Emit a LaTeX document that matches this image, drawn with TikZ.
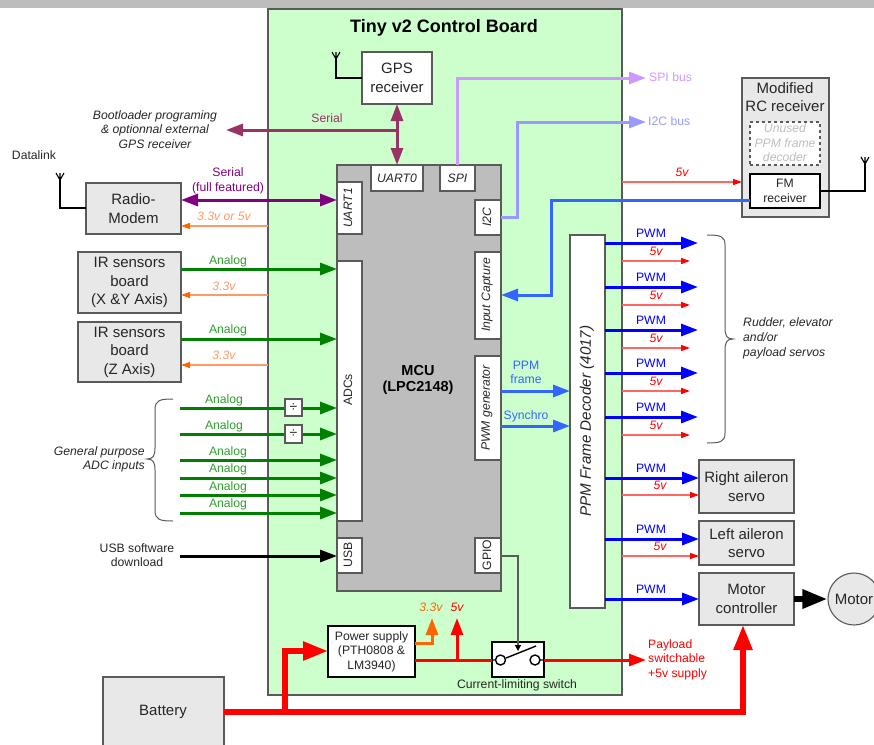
\documentclass[tikz,border=0pt]{standalone}
\usepackage{fontspec}
\setmainfont{Liberation Sans}
\usetikzlibrary{arrows.meta,calc}
\definecolor{boardgreen}{HTML}{CCFFCC}
\definecolor{mcugray}{HTML}{BDBDBD}
\definecolor{boxgray}{HTML}{E8E8E8}
\definecolor{edgegray}{HTML}{5A5A5A}
\definecolor{txt}{HTML}{262626}
\definecolor{magline}{HTML}{993366}
\definecolor{purp}{HTML}{800080}
\definecolor{orgline}{HTML}{FF9966}
\definecolor{orghead}{HTML}{FF6600}
\definecolor{grn}{HTML}{008000}
\definecolor{grntxt}{HTML}{2E9E2E}
\definecolor{lilac}{HTML}{CC99FF}
\definecolor{peri}{HTML}{9999FF}
\definecolor{azure}{HTML}{3366FF}
\definecolor{pink}{HTML}{FF6666}
\newcommand{\fbig}{\fontsize{15}{18.5}\selectfont}
\newcommand{\fsm}{\fontsize{12.2}{14.6}\selectfont}
\newcounter{lblc}
% \nbox[style]{name}{x1}{y1}{x2}{y2}{text}
\newcommand{\nbox}[7][]{%
  \pgfmathsetmacro{\bw}{#5-#3}\pgfmathsetmacro{\bh}{#6-#4}%
  \node[anchor=north west,inner sep=0pt,outer sep=0pt,align=center,font=\fbig,text=txt,
        draw=edgegray,line width=1.1pt,minimum width=\bw pt,minimum height=\bh pt,#1] (#2) at (#3,#4) {#7};}
\newcommand{\lbl}[4][]{\stepcounter{lblc}%
  \node[inner sep=0pt,align=center,font=\fsm,text=txt,#1] (t\arabic{lblc}) at (#2,#3) {#4};}
\tikzset{
  x=1pt,y=-1pt,
  fatline/.style={line width=3pt},
  thinline/.style={line width=1.4pt},
  bighead/.style={-{Triangle[length=17pt,width=12pt]}},
  smallhead/.style={-{Triangle[length=9pt,width=6pt,color=#1]}},
  hugehead/.style={-{Triangle[length=25pt,width=18pt]}},
  serialdbl/.style={{Triangle[length=17pt,width=12pt]}-{Triangle[length=17pt,width=12pt]}},
  white box/.style={fill=white},
  gray box/.style={fill=boxgray},
  port/.style={fill=white,font=\fsm\itshape},
  vert/.style={rotate=90,font=\fsm\itshape},
  volt/.style={font=\fsm\itshape},
  aerial/.style={line width=1.1pt,black},
  bracket/.style={line width=1pt,edgegray},
}
\begin{document}
\begin{tikzpicture}[line cap=butt]
\useasboundingbox (0,0) rectangle (874,744);
\fill[mcugray] (0,0) rectangle (874,8);
% board
\nbox[fill=boardgreen]{board}{268}{9}{622}{695}{}
\lbl[font=\fontsize{18}{20}\selectfont\bfseries,text=black]{444}{28}{Tiny v2 Control Board}
% MCU and ports
\nbox[fill=mcugray]{mcu}{337}{165}{501}{591}{}
\lbl[font=\fontsize{14.5}{16}\selectfont\bfseries,text=black]{418}{380}{MCU\\(LPC2148)}
\nbox[port]{uart0}{371}{165}{423}{191}{UART0}
\nbox[port]{spi}{440}{165}{475}{191}{SPI}
\nbox[white box]{uart1}{337}{182}{362}{234}{}
\lbl[vert]{348}{208}{UART1}
\nbox[white box]{adcs}{337}{261}{362}{521}{}
\lbl[vert,font=\fsm]{348}{390}{ADCs}
\nbox[white box]{usb}{337}{538}{362}{573}{}
\lbl[vert,font=\fsm]{348}{555}{USB}
\nbox[white box]{i2c}{475}{200}{501}{235}{}
\lbl[vert]{487}{217}{I2C}
\nbox[white box]{icap}{475}{252}{501}{339}{}
\lbl[vert]{487}{295}{Input Capture}
\nbox[white box]{pwmgen}{475}{356}{501}{460}{}
\lbl[vert]{487}{408}{PWM generator}
\nbox[white box]{gpio}{475}{538}{501}{573}{}
\lbl[vert,font=\fsm]{487}{555}{GPIO}
% decoder
\nbox[white box]{dec}{570}{235}{605}{608}{}
\lbl[rotate=90,font=\fontsize{15.2}{17}\selectfont\itshape]{587}{421}{PPM Frame Decoder (4017)}
% GPS
\nbox[white box]{gps}{362}{52}{432}{104}{GPS\\receiver}
\coordinate (gpsant) at (336,59);
\draw[aerial] (gps.west) -| (gpsant) ;
\draw[aerial] (gpsant) -- +(-4,-7) (gpsant) -- +(4,-7) (gpsant) -- +(0,-7);
% left boxes
\nbox[gray box]{radio}{86}{183}{181}{234}{Radio-\\Modem}
\coordinate (radant) at (60,180);
\draw[aerial] (radio.west |- 0,208) -| (radant);
\draw[aerial] (radant) -- +(-4,-7) (radant) -- +(4,-7) (radant) -- +(0,-7);
\nbox[gray box]{irxy}{78}{252}{181}{313}{IR sensors\\board\\(X \&Y Axis)}
\nbox[gray box]{irz}{78}{322}{181}{382}{IR sensors\\board\\(Z Axis)}
\nbox[gray box]{batt}{103}{677}{224}{750}{}
\lbl[font=\fbig]{163}{712}{Battery}
% right boxes
\nbox[gray box]{rc}{742}{78}{829}{217}{}
\lbl[font=\fbig]{785}{97}{Modified\\RC receiver}
\nbox[white box,dashed,line width=1.3pt]{unused}{750}{122}{820}{165}{}
\lbl[text=black!25,font=\fontsize{12.2}{14.6}\selectfont\itshape]{785}{143}{Unused\\PPM frame\\decoder}
\nbox[white box,draw=black,font=\fontsize{12.2}{15}\selectfont]{fm}{750}{174}{820}{208}{FM\\receiver}
\coordinate (fmant) at (865,164);
\draw[aerial] (fm.east |- 0,191) -| (fmant);
\draw[aerial] (fmant) -- +(-4,-7) (fmant) -- +(4,-7) (fmant) -- +(0,-7);
\nbox[gray box]{raileron}{699}{460}{794}{513}{Right aileron\\servo}
\nbox[gray box]{laileron}{699}{521}{794}{565}{Left aileron\\servo}
\nbox[gray box]{motctl}{699}{573}{794}{625}{Motor\\controller}
\node[circle,draw=edgegray,line width=1.1pt,fill=boxgray,minimum size=52pt,inner sep=0pt,text=txt,font=\fbig] (motor) at (854,599) {Motor};
% power supply and switch
\nbox[white box,draw=black,font=\fsm]{psu}{328}{626}{415}{677}{Power supply\\(PTH0808 \&\\LM3940)}
\nbox[white box,draw=black]{switch}{492}{642}{544}{677}{}
\lbl{517}{685}{Current-limiting switch}
\draw[black,line width=1.4pt] (500.5,660) circle (5) (535,660) circle (5) (492,660) -- (495.5,660) (540,660) -- (544,660) (506,658) -- (536,646);
% Serial GPS
\coordinate (bootl) at (226,130);
\coordinate (sertap) at (397,130);
\draw[magline,fatline,serialdbl] (gps.south -| sertap) -- (uart0.north -| sertap);
\draw[magline,fatline,bighead] (sertap) -- (bootl);
\lbl[text=magline]{327}{118}{Serial}
\lbl[font=\fsm\itshape,text=txt]{155}{129.5}{Bootloader programing\\\& optionnal external\\GPS receiver}
\lbl{34}{155}{Datalink}
% Radio modem
\draw[purp,fatline,serialdbl] (radio.east |- 0,200) -- (uart1.west |- 0,200);
\lbl[text=purp]{228}{181}{Serial\\(full featured)}
\draw[orgline,thinline,smallhead=orghead] (board.west |- 0,226) -- (radio.east |- 0,226);
\lbl[text=orgline,volt]{224}{216}{3.3v or 5v}
% IR
\draw[grn,fatline,bighead] (irxy.east |- 0,269) -- (adcs.west |- 0,269);
\lbl[text=grntxt]{228}{261}{Analog}
\draw[orgline,thinline,smallhead=orghead] (board.west |- 0,295) -- (irxy.east |- 0,295);
\lbl[text=orgline,volt]{224}{286}{3.3v}
\draw[grn,fatline,bighead] (irz.east |- 0,339) -- (adcs.west |- 0,339);
\lbl[text=grntxt]{228}{330}{Analog}
\draw[orgline,thinline,smallhead=orghead] (board.west |- 0,365) -- (irz.east |- 0,365);
\lbl[text=orgline,volt]{224}{355}{3.3v}
% General ADC
\foreach \yy/\lx/\ly/\nm in {408/224/400/a,434/224/426/b,460/228/452/c,478/228/469/d,495/228/487/e,513/228/504/f}{
  \coordinate (g\nm) at (180,\yy);
  \draw[grn,fatline,bighead] (g\nm) -- (adcs.west |- g\nm);
  \lbl[text=grntxt]{\lx}{\ly}{Analog}
}
\nbox[white box,draw=edgegray,font=\fontsize{14}{14}\selectfont]{diva}{285}{399}{302}{416}{÷}
\nbox[white box,draw=edgegray,font=\fontsize{14}{14}\selectfont]{divb}{285}{425}{302}{443}{÷}
\draw[bracket] (173,399) .. controls (160,399) and (155,400) .. (155,410) -- (155,448) .. controls (155,456) and (153,459) .. (147,459) .. controls (153,459) and (155,462) .. (155,470) -- (155,510) .. controls (155,520) and (160,521) .. (173,521);
\lbl[text=txt,font=\fsm\itshape,align=right,anchor=east]{145}{459.5}{General purpose\\ADC inputs}
% USB
\coordinate (usbin) at (180,556);
\draw[black,fatline,bighead] (usbin) -- (usb.west |- usbin);
\lbl{137}{555}{USB software\\download}
% buses
\coordinate (spiend) at (646,78);
\coordinate (i2cend) at (646,122);
\draw[lilac,fatline,bighead] (spi.north) |- (spiend);
\draw[peri,fatline,bighead] (i2c.east) -| (517,122) -- (i2cend);
\lbl[text=lilac,anchor=west]{649}{77.5}{SPI bus}
\lbl[text=peri,anchor=west]{648}{121}{I2C bus}
% RC link
\draw[pink,thinline,smallhead=red] (board.east |- 0,182) -- (rc.west |- 0,182);
\lbl[text=red,volt]{682}{172}{5v}
\draw[azure,fatline,bighead] (fm.west |- 0,200) -| (551,295) -- (icap.east |- 0,295);
% PPM
\draw[azure,fatline,bighead] (pwmgen.east |- 0,391) -- (dec.west |- 0,391);
\draw[azure,fatline,bighead] (pwmgen.east |- 0,426) -- (dec.west |- 0,426);
\lbl[text=azure]{526}{372.5}{PPM\\frame}
\lbl[text=azure]{526}{416}{Synchro}
% PWM servos
\foreach \yy/\nm in {243/a,287/b,330/c,373/d,417/e}{
  \coordinate (pw\nm) at (698,\yy);
  \coordinate (pr\nm) at (690,\yy+18);
  \draw[blue,fatline,bighead] (dec.east |- pw\nm) -- (pw\nm);
  \draw[pink,thinline,smallhead=red] (board.east |- pr\nm) -- (pr\nm);
  \lbl[text=blue]{651}{\yy-10}{PWM}
  \lbl[text=red,volt]{656}{\yy+8}{5v}
}
\draw[bracket] (707,235) .. controls (720,235) and (725,236) .. (725,245) -- (725,328) .. controls (725,336) and (727,339) .. (733,339) .. controls (727,339) and (725,342) .. (725,350) -- (725,433) .. controls (725,442) and (720,443) .. (707,443);
\lbl[font=\fontsize{12.2}{15}\selectfont\itshape,align=left,anchor=west]{743}{338}{Rudder, elevator\\and/or\\payload servos}
% ailerons and motor
\draw[blue,fatline,bighead] (dec.east |- 0,478) -- (raileron.west |- 0,478);
\lbl[text=blue]{651}{468}{PWM}
\draw[pink,thinline,smallhead=red] (board.east |- 0,495) -- (raileron.west |- 0,495);
\lbl[text=red,volt]{660}{485}{5v}
\draw[blue,fatline,bighead] (dec.east |- 0,539) -- (laileron.west |- 0,539);
\lbl[text=blue]{651}{529}{PWM}
\draw[pink,thinline,smallhead=red] (board.east |- 0,556) -- (laileron.west |- 0,556);
\lbl[text=red,volt]{660}{546}{5v}
\draw[blue,fatline,bighead] (dec.east |- 0,599) -- (motctl.west |- 0,599);
\lbl[text=blue]{651}{589}{PWM}
\draw[black,line width=6pt,hugehead] (motctl.east) -- (motor.west);
% power
\draw[red,line width=5.5pt] (batt.east |- 0,712) -- (743,712);
\draw[red,line width=5.5pt,hugehead] (743,714.7) -- (motctl.south -| 743,0);
\draw[red,line width=5.5pt,hugehead] (285,712) -- (285,651) -- (psu.west |- 0,651);
\draw[orghead,fatline,bighead] (psu.east |- 0,643) -| (432,618);
\draw[red,fatline] (psu.east |- 0,660) -- (switch.west |- 0,660);
\draw[red,fatline,bighead] (457,660) -- (457,618);
\draw[red,fatline,bighead] (switch.east |- 0,660) -- (646,660);
\lbl[text=orghead,volt]{431}{607}{3.3v}
\lbl[text=red,volt]{457}{607}{5v}
\lbl[text=red,align=left,anchor=west]{648}{659.5}{Payload\\switchable\\+5v supply}
% GPIO to switch
\draw[edgegray,line width=1.2pt,-{Triangle[length=6pt,width=6pt,color=black]}] (gpio.east |- 0,556) -| (518,651);
\end{tikzpicture}
\end{document}
